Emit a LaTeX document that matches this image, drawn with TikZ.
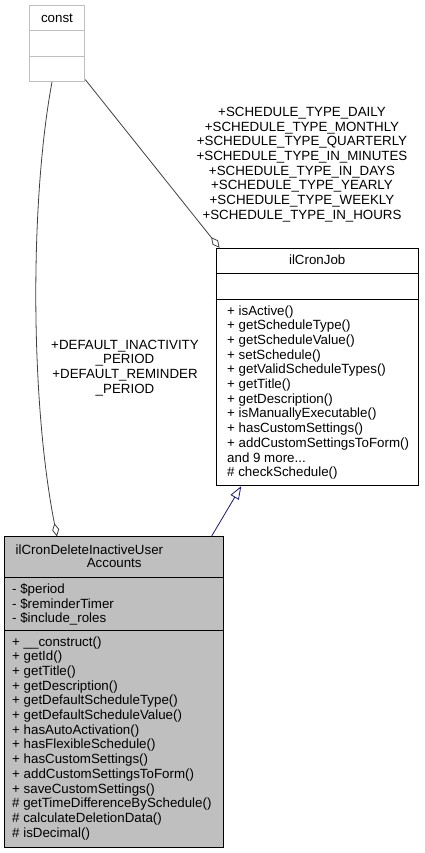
\documentclass[tikz,border=0pt]{standalone}
\usepackage{fontspec}
\setmainfont{Liberation Sans}
\usetikzlibrary{arrows.meta}

\definecolor{edgegray}{HTML}{404040}
\definecolor{lightborder}{HTML}{BFBFBF}
\definecolor{inheritblue}{HTML}{191970}

\tikzset{
  classbox/.style={draw=black, line width=1pt, inner sep=0pt, minimum width=#1},
  member/.style={anchor=base west, align=left, inner sep=0pt, font=\fontsize{13.33}{14.7}\selectfont},
  caption/.style={anchor=base, align=center, inner sep=0pt, font=\fontsize{13.33}{14.65}\selectfont},
  usage/.style={draw=edgegray, line width=0.8pt, -{Diamond[open, length=13.5pt, width=7pt, line width=0.8pt]}},
  inherit/.style={draw=inheritblue, line width=0.8pt, -{Triangle[open, length=13pt, width=9.5pt, line width=0.8pt]}}
}

\begin{document}
\begin{tikzpicture}[x=1pt, y=-1pt]
\useasboundingbox (0,0) rectangle (424,853);

% Class boxes
\node[classbox=55.5pt, draw=lightborder, minimum height=76.5pt] (const) at (57, 43.3) {};
\node[classbox=202.3pt, minimum height=237.4pt] (cronjob) at (317.2, 367) {};
\node[classbox=219.5pt, fill=lightborder, minimum height=310.3pt] (deluser) at (114.2, 692.1) {};

% Compartment lines
\draw[lightborder, line width=1pt] (const.west |- 0,31) -- (const.east |- 0,31);
\draw[lightborder, line width=1pt] (const.west |- 0,56.7) -- (const.east |- 0,56.7);
\draw[line width=1pt] (cronjob.west |- 0,273.3) -- (cronjob.east |- 0,273.3);
\draw[line width=1pt] (cronjob.west |- 0,299.5) -- (cronjob.east |- 0,299.5);
\draw[line width=1pt] (deluser.west |- 0,577.3) -- (deluser.east |- 0,577.3);
\draw[line width=1pt] (deluser.west |- 0,630.5) -- (deluser.east |- 0,630.5);

% Class names
\node[caption] (constname) at (57, 22.3) {const};
\node[caption] (cronjobname) at (317.2, 264.5) {ilCronJob};
\node[member] (delname) at (15.5, 554.8) {ilCronDeleteInactiveUser};
\node[caption] (delname2) at (114.2, 567.8) {Accounts};

% Members (anchored at the baseline of the last line)
\node[member] (cronjobops) at (227, 476.7) {+ isActive()\\+ getScheduleType()\\+ getScheduleValue()\\+ setSchedule()\\+ getValidScheduleTypes()\\+ getTitle()\\+ getDescription()\\+ isManuallyExecutable()\\+ hasCustomSettings()\\+ addCustomSettingsToForm()\\and 9 more...\\\# checkSchedule()};
\node[member] (delattrs) at (12, 622.9) {- \$period\\- \$reminderTimer\\- \$include\_roles};
\node[member] (delops) at (12, 837.1) {+ \_\_construct()\\+ getId()\\+ getTitle()\\+ getDescription()\\+ getDefaultScheduleType()\\+ getDefaultScheduleValue()\\+ hasAutoActivation()\\+ hasFlexibleSchedule()\\+ hasCustomSettings()\\+ addCustomSettingsToForm()\\+ saveCustomSettings()\\\# getTimeDifferenceBySchedule()\\\# calculateDeletionData()\\\# isDecimal()};

% Connectors
\draw[usage] ([xshift=-5pt]const.south) .. controls (30,200) and (30,400) .. ([xshift=-57.2pt]deluser.north);
\draw[usage] ([yshift=2.5pt]const.south east) -- ([xshift=4pt]cronjob.north west);
\draw[inherit] ([xshift=-13pt]deluser.north east) -- ([xshift=25.7pt]cronjob.south west);

% Connector labels (anchored at the baseline of the last line)
\node[caption] (constants) at (302, 219) {+SCHEDULE\_TYPE\_DAILY\\+SCHEDULE\_TYPE\_MONTHLY\\+SCHEDULE\_TYPE\_QUARTERLY\\+SCHEDULE\_TYPE\_IN\_MINUTES\\+SCHEDULE\_TYPE\_IN\_DAYS\\+SCHEDULE\_TYPE\_YEARLY\\+SCHEDULE\_TYPE\_WEEKLY\\+SCHEDULE\_TYPE\_IN\_HOURS};
\node[caption] (defaults) at (125, 393) {+DEFAULT\_INACTIVITY\\\_PERIOD\\+DEFAULT\_REMINDER\\\_PERIOD};
\end{tikzpicture}
\end{document}
